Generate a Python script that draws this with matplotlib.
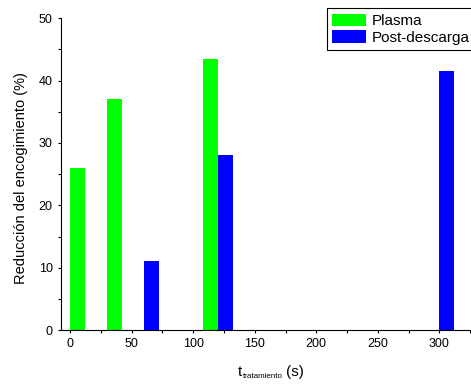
import matplotlib
matplotlib.use("Agg")
import matplotlib.pyplot as plt
from matplotlib.ticker import MultipleLocator

plt.rcParams['font.family'] = 'Liberation Sans'

# tiempos de tratamiento (s) y reduccion del encogimiento (%)
t_plasma = [0, 30, 108]
red_plasma = [26, 37, 43.5]
t_post = [60, 120, 300]
red_post = [11, 28, 41.5]

fig = plt.figure(figsize=(4.71, 3.84), dpi=100)
ax = fig.add_axes([0.1295, 0.1406, 0.882, 0.8117])

ax.bar(t_plasma, red_plasma, width=12, align='edge', color='#00ff00', label='Plasma')
ax.bar(t_post, red_post, width=12, align='edge', color='#0000ff', label='Post-descarga')

ax.set_xlim(-7.3, 330)
ax.set_ylim(0, 50)
ax.xaxis.set_major_locator(MultipleLocator(50))
ax.xaxis.set_minor_locator(MultipleLocator(25))
ax.yaxis.set_major_locator(MultipleLocator(10))
ax.yaxis.set_minor_locator(MultipleLocator(5))
ax.tick_params(which='both', direction='out', labelsize=9, width=0.8, length=2.5)

ax.spines['top'].set_visible(False)
ax.spines['right'].set_visible(False)

ax.set_ylabel('Reducción del encogimiento (%)', fontsize=10.5)
ax.yaxis.set_label_coords(-0.079, 0.488)

# etiqueta del eje x con subindice pequeno
fig.text(238 / 471, 1 - 376 / 384, 't', fontsize=11, va='baseline', ha='left')
fig.text(243 / 471, 1 - 378.5 / 384, 'tratamiento', fontsize=5.8, va='baseline', ha='left')
fig.text(286 / 471, 1 - 376 / 384, '(s)', fontsize=11, va='baseline', ha='left')

leg = ax.legend(loc='upper left', bbox_to_anchor=(326.7 / 471, 1 - 8.3 / 384),
                bbox_transform=fig.transFigure, fontsize=11, frameon=True,
                fancybox=False, edgecolor='black', framealpha=1,
                handlelength=2.2, handleheight=0.85, handletextpad=0.4,
                borderpad=0.35, labelspacing=0.15, borderaxespad=0)
leg.get_frame().set_linewidth(0.8)

fig.savefig('out.png', dpi=100)
